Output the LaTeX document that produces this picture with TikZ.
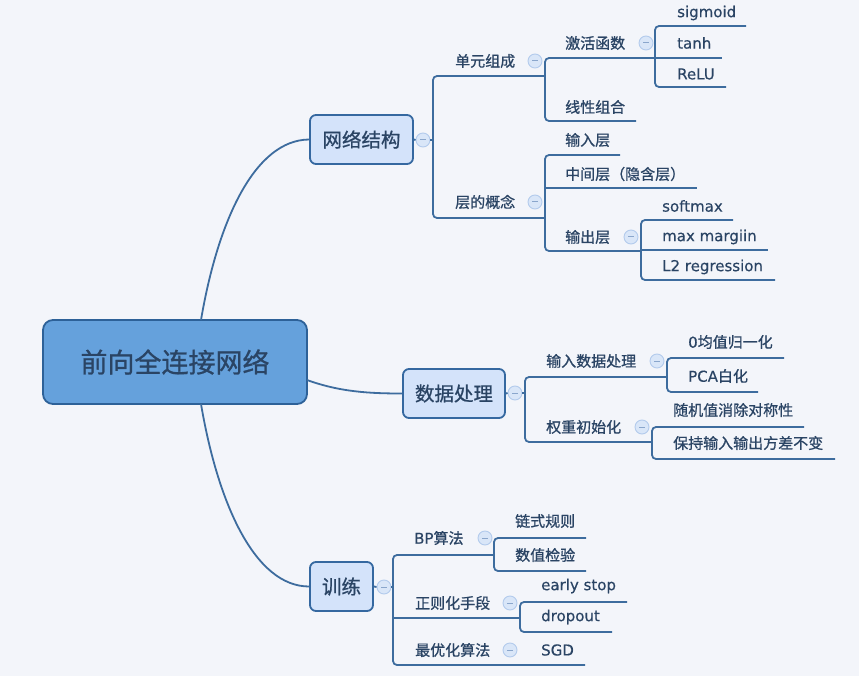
\documentclass[tikz,border=0pt]{standalone}
\usepackage{fontspec}
\setmainfont{DejaVu Sans}[RawFeature={embolden=0.4}]
\newfontfamily\cjk{Noto Sans CJK SC}[RawFeature={embolden=0.9}]
\newcommand\zh[1]{{\cjk #1}}
\definecolor{bg}{HTML}{F3F5FA}
\definecolor{txt}{HTML}{2A4464}
\definecolor{linec}{HTML}{3D6C9E}
\definecolor{rootfill}{HTML}{65A1DC}
\definecolor{rootline}{HTML}{2D6198}
\definecolor{topfill}{HTML}{D4E3FA}
\definecolor{topline}{HTML}{3568A0}
\definecolor{foldfill}{HTML}{D9E6F8}
\definecolor{foldline}{HTML}{B3CBEC}
\definecolor{foldminus}{HTML}{8AA6CC}
\tikzset{
  leaf/.style={anchor=west, inner sep=0pt, text=txt, font=\fontsize{15}{17}\selectfont},
  cleaf/.style={leaf, font=\cjk\fontsize{15}{17}\selectfont},
  topic/.style={draw=topline, fill=topfill, rounded corners=6pt, line width=1.8pt, text=txt,
    inner sep=0pt, font=\cjk\fontsize{19.5}{22}\selectfont},
  rootnode/.style={draw=rootline, fill=rootfill, rounded corners=10pt, line width=1.8pt, text=txt,
    inner sep=0pt, minimum width=264pt, minimum height=84pt, font=\cjk\fontsize{27}{30}\selectfont},
  conn/.style={draw=linec, line width=1.8pt},
  bracket/.style={conn, rounded corners=4pt},
  fold/.style={circle, draw=foldline, fill=foldfill, minimum size=14pt, inner sep=0pt, line width=0.9pt,
    path picture={\draw[foldminus, line width=1pt] ([xshift=-3pt]path picture bounding box.center) -- ([xshift=3pt]path picture bounding box.center);}}
}
\begin{document}
\begin{tikzpicture}[x=1pt,y=-1pt]
\fill[bg] (0,0) rectangle (859,676);
\useasboundingbox (0,0) rectangle (859,676);

% ---------- main nodes ----------
\node[rootnode] (root) at (175,362) {前向全连接网络};
\node[topic, minimum width=103pt, minimum height=49pt] (net) at (361.5,139.5) {网络结构};
\node[topic, minimum width=102pt, minimum height=49pt] (data) at (454,393.5) {数据处理};
\node[topic, minimum width=63pt, minimum height=49pt] (train) at (341.5,586.5) {训练};

\coordinate (rtop) at (201,320);
\coordinate (rbot) at (201,404);
\coordinate (rright) at (307,380);
\draw[conn] (rtop) .. controls (218,220) and (255,140) .. (net.west);
\draw[conn] (rright) .. controls (340,392) and (370,393.5) .. (data.west);
\draw[conn] (rbot) .. controls (218,504) and (255,586.5) .. (train.west);

% ---------- 网络结构 ----------
\node[fold] (f1) at (423,140) {};
\draw[conn] (net.east) -- (f1.west);
\draw[conn] (f1.east) -- (433,140);
\draw[bracket] (545,76) -- (433,76) -- (433,218) -- (545,218);

\node[cleaf] (dy) at (455,61) {单元组成};
\node[fold] (f2) at (535,61) {};
\draw[bracket] (655,58) -- (545,58) -- (545,121) -- (636,121);
\node[cleaf] (jh) at (565,43) {激活函数};
\node[fold] (f3) at (646,43) {};
\node[cleaf] (xx) at (565,107) {线性组合};
\draw[bracket] (746,26) -- (655,26) -- (655,87) -- (726,87);
\draw[conn] (655,58) -- (722,58);
\node[leaf] (sig) at (677,13) {sigmoid};
\node[leaf] (tanh) at (677,43) {tanh};
\node[leaf] (relu) at (677,74) {ReLU};

\node[cleaf] (cd) at (455,202) {层的概念};
\node[fold] (f4) at (535,202) {};
\draw[bracket] (620,155) -- (545,155) -- (545,251) -- (641,251);
\draw[conn] (545,188) -- (697,188);
\node[cleaf] (inl) at (565,140) {输入层};
\node[cleaf] (midl) at (565,174) {中间层（隐含层）};
\node[cleaf] (outl) at (565,237) {输出层};
\node[fold] (f5) at (631,237) {};
\draw[bracket] (733,220) -- (641,220) -- (641,280) -- (775,280);
\draw[conn] (641,250) -- (768,250);
\node[leaf] (smax) at (662,206) {softmax};
\node[leaf] (mm) at (662,237) {max margiin};
\node[leaf] (l2) at (662,267) {L2 regression};

% ---------- 数据处理 ----------
\node[fold] (f6) at (515,393) {};
\draw[conn] (data.east) -- (f6.west);
\draw[conn] (f6.east) -- (525,393);
\draw[bracket] (667,377) -- (525,377) -- (525,442) -- (652,442);
\node[cleaf] (srsj) at (546,361) {输入数据处理};
\node[fold] (f7) at (657,361) {};
\draw[bracket] (784,358) -- (667,358) -- (667,392) -- (758,392);
\node[leaf] (zero) at (688,342) {0\zh{均值归一化}};
\node[leaf] (pca) at (688,376) {PCA\zh{白化}};
\node[cleaf] (qz) at (546,427) {权重初始化};
\node[fold] (f8) at (642,427) {};
\draw[bracket] (804,427) -- (652,427) -- (652,459) -- (835,459);
\node[cleaf] (sj) at (673,410) {随机值消除对称性};
\node[cleaf] (bc) at (673,443) {保持输入输出方差不变};

% ---------- 训练 ----------
\node[fold] (f9) at (384,587) {};
\draw[conn] (train.east) -- (f9.west);
\draw[conn] (f9.east) -- (393,587);
\draw[bracket] (494,555) -- (393,555) -- (393,665) -- (585,665);
\draw[conn] (393,618) -- (520,618);
\node[leaf] (bp) at (414,538) {BP\zh{算法}};
\node[fold] (f10) at (485,538) {};
\draw[bracket] (586,538) -- (494,538) -- (494,571) -- (586,571);
\node[cleaf] (ls) at (515,521) {链式规则};
\node[cleaf] (sz) at (515,555) {数值检验};
\node[cleaf] (zz) at (415,603) {正则化手段};
\node[fold] (f11) at (510,603) {};
\draw[bracket] (627,602) -- (520,602) -- (520,632) -- (612,632);
\node[leaf] (es) at (541,586) {early stop};
\node[leaf] (dp) at (541,617) {dropout};
\node[cleaf] (zy) at (415,650) {最优化算法};
\node[fold] (f12) at (510,650) {};
\node[leaf] (sgd) at (541,650) {SGD};
\end{tikzpicture}
\end{document}
